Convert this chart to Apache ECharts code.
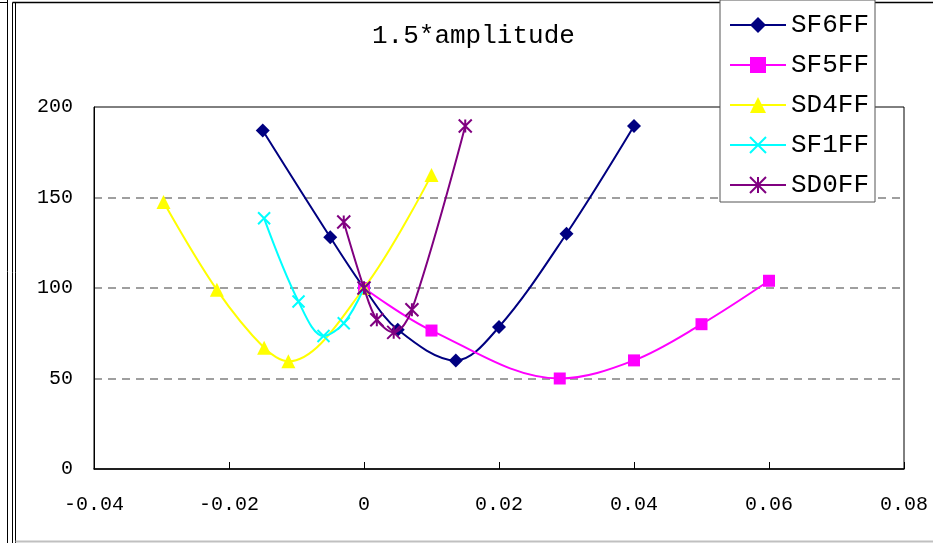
<!DOCTYPE html>
<html>
<head>
<meta charset="utf-8">
<script src="https://cdn.jsdelivr.net/npm/echarts@6/dist/echarts.min.js"></script>
<style>
html,body{margin:0;padding:0;background:#fff;}
#chart{width:933px;height:543px;}
</style>
</head>
<body>
<div id="chart"></div>
<script>
// ---- data ----
var seriesNames = ['SF6FF', 'SF5FF', 'SD4FF', 'SF1FF', 'SD0FF'];
var sf6ff = [[-0.015, 187], [-0.005, 128], [0, 100], [0.005, 77], [0.0136, 60], [0.02, 78.5], [0.03, 130], [0.04, 189.5]];
var sf5ff = [[0, 100], [0.01, 76.5], [0.029, 50], [0.04, 60], [0.05, 80], [0.06, 104]];
var sd4ff = [[-0.0297, 147.5], [-0.0218, 99], [-0.0148, 67], [-0.0112, 59.5], [0, 100], [0.01, 162.5]];
var sf1ff = [[-0.0148, 138.5], [-0.0097, 92.5], [-0.006, 73.5], [-0.003, 80.5], [0, 100]];
var sd0ff = [[-0.003, 136.5], [0, 100], [0.0019, 82.5], [0.0044, 75.5], [0.0071, 88], [0.015, 189.5]];
var xTicks = [-0.04, -0.02, 0, 0.02, 0.04, 0.06, 0.08];
var yTicks = [0, 50, 100, 150, 200];
var titleText = '1.5*amplitude';

var colors = ['#000080', '#FF00FF', '#FFFF00', '#00FFFF', '#800080'];
var symbols = ['diamond', 'rect', 'triangle',
  'path://M0,0L10,10M10,0L0,10',
  'path://M0,0L10,10M10,0L0,10M5,0L5,10'];
var sizes = [14, 12, 14, 12, 13];
var datasets = [sf6ff, sf5ff, sd4ff, sf1ff, sd0ff];

var MONO = '"Liberation Mono", "DejaVu Sans Mono", monospace';

var series = seriesNames.map(function (n, i) {
  var stroke = i >= 3;
  return {
    name: n,
    type: 'line',
    data: datasets[i],
    smooth: 0.35,
    symbol: symbols[i],
    symbolSize: sizes[i],
    symbolKeepAspect: true,
    showAllSymbol: true,
    lineStyle: { color: colors[i], width: 2 },
    itemStyle: stroke
      ? { color: colors[i], borderColor: colors[i], borderWidth: 2 }
      : { color: colors[i], borderColor: colors[i], borderWidth: 0 },
    emphasis: { disabled: true },
    z: 3 + i
  };
});

var chart = echarts.init(document.getElementById('chart'));
chart.setOption({
  animation: false,
  backgroundColor: '#ffffff',
  color: colors,
  title: {
    text: titleText,
    left: 372,
    top: 23,
    padding: 0,
    textStyle: { fontFamily: MONO, fontSize: 26, fontWeight: 'normal', color: '#000' }
  },
  legend: {
    data: seriesNames,
    orient: 'vertical',
    left: 720,
    top: 0,
    padding: [12, 6, 4, 9],
    itemWidth: 56,
    itemHeight: 20,
    itemGap: 14,
    backgroundColor: '#fff',
    borderColor: '#555',
    borderWidth: 1,
    textStyle: { fontFamily: MONO, fontSize: 26, lineHeight: 26, color: '#000' },
    z: 10
  },
  grid: {
    left: 94,
    right: 29,
    top: 107,
    bottom: 74,
    show: true,
    borderColor: '#000',
    borderWidth: 1,
    containLabel: false
  },
  xAxis: {
    type: 'value',
    min: xTicks[0],
    max: xTicks[xTicks.length - 1],
    interval: 0.02,
    axisLine: { show: true, onZero: false, lineStyle: { color: '#000', width: 1.5 } },
    axisTick: { show: true, inside: true, length: 7, lineStyle: { color: '#000' } },
    splitLine: { show: false },
    axisLabel: {
      margin: 26,
      fontFamily: MONO,
      fontSize: 20,
      color: '#000',
      formatter: function (v) {
        for (var k = 0; k < xTicks.length; k++) {
          if (Math.abs(xTicks[k] - v) < 1e-9) return String(xTicks[k]);
        }
        return '';
      }
    }
  },
  yAxis: {
    type: 'value',
    min: yTicks[0],
    max: yTicks[yTicks.length - 1],
    interval: 50,
    axisLine: { show: true, onZero: false, lineStyle: { color: '#000', width: 1 } },
    axisTick: { show: false },
    splitLine: { show: true, lineStyle: { color: '#808080', type: [8, 6], width: 1.5 } },
    axisLabel: {
      margin: 21,
      fontFamily: MONO,
      fontSize: 20,
      color: '#000',
      formatter: function (v) { return String(v); }
    }
  },
  graphic: [
    { type: 'line', shape: { x1: 7.5, y1: 0, x2: 7.5, y2: 543 }, style: { stroke: '#000', lineWidth: 1 }, silent: true },
    { type: 'line', shape: { x1: 0, y1: 2.5, x2: 7.5, y2: 2.5 }, style: { stroke: '#000', lineWidth: 1 }, silent: true },
    { type: 'line', shape: { x1: 12.5, y1: 2.5, x2: 12.5, y2: 543 }, style: { stroke: '#000', lineWidth: 1 }, silent: true },
    { type: 'line', shape: { x1: 15.5, y1: 2.5, x2: 15.5, y2: 543 }, style: { stroke: '#000', lineWidth: 1 }, silent: true },
    { type: 'line', shape: { x1: 12.5, y1: 2.5, x2: 933, y2: 2.5 }, style: { stroke: '#000', lineWidth: 1.5 }, silent: true },
    { type: 'line', shape: { x1: 15.5, y1: 541.5, x2: 933, y2: 541.5 }, style: { stroke: '#c0c0c0', lineWidth: 2 }, silent: true }
  ],
  series: series
});
</script>
</body>
</html>
